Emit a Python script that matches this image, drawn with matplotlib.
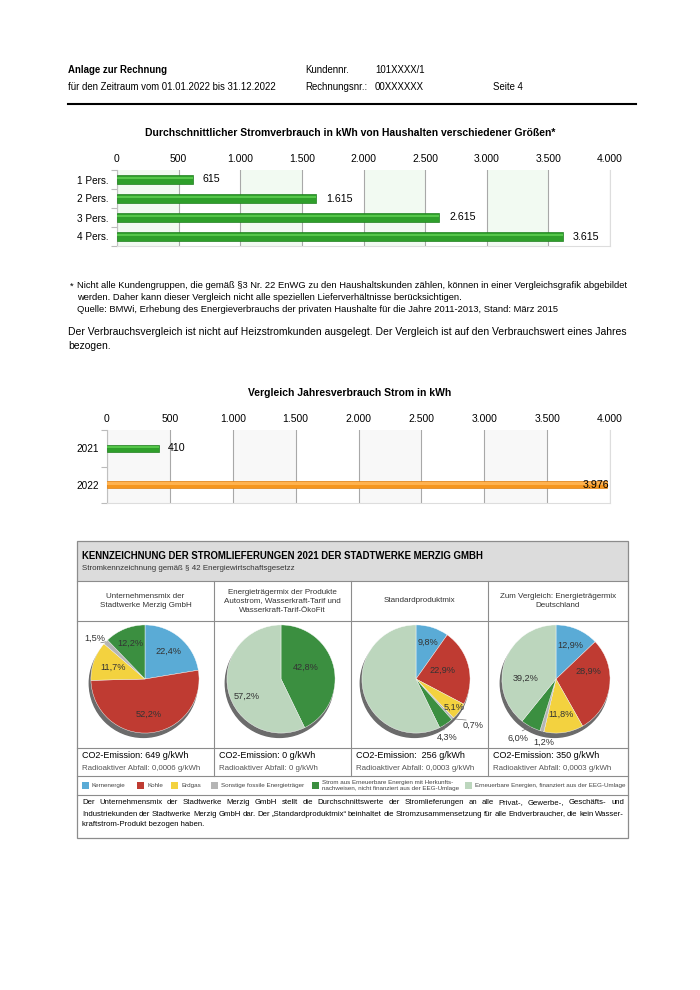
import numpy as np
import matplotlib.pyplot as plt
from matplotlib.patches import Rectangle, Circle

plt.rcParams['font.family'] = ['Liberation Sans', 'DejaVu Sans']

# Daten
haushalt_kat = ['1 Pers.', '2 Pers.', '3 Pers.', '4 Pers.']
haushalt_kwh = [615, 1615, 2615, 3615]
jahre = ['2021', '2022']
jahres_kwh = [410, 3976]
achse_ticks = [0, 500, 1000, 1500, 2000, 2500, 3000, 3500, 4000]

traeger = ['Kernenergie', 'Kohle', 'Erdgas', 'Sonstige fossile Energieträger',
           'Strom aus Erneuerbare Energien mit Herkunfts-\nnachweisen, nicht finanziert aus der EEG-Umlage',
           'Erneuerbare Energien, finanziert aus der EEG-Umlage']
traeger_farben = ['#5aabd6', '#bf3b32', '#f3d23f', '#b5b5b5', '#3b8f40', '#bcd6bd']

mix_titel = ['Unternehmensmix der\nStadtwerke Merzig GmbH',
             'Energieträgermix der Produkte\nAutostrom, Wasserkraft-Tarif und\nWasserkraft-Tarif-ÖkoFit',
             'Standardproduktmix',
             'Zum Vergleich: Energieträgermix\nDeutschland']
mix_unternehmen = [22.4, 52.2, 11.7, 1.5, 12.2, 0.0]
mix_oekofit = [0.0, 0.0, 0.0, 0.0, 42.8, 57.2]
mix_standard = [9.8, 22.9, 5.1, 0.7, 4.3, 57.2]
mix_deutschland = [12.9, 28.9, 11.8, 1.2, 6.0, 39.2]
co2 = ['CO2-Emission: 649 g/kWh', 'CO2-Emission: 0 g/kWh',
       'CO2-Emission:  256 g/kWh', 'CO2-Emission: 350 g/kWh']
abfall = ['Radioaktiver Abfall: 0,0006 g/kWh', 'Radioaktiver Abfall: 0 g/kWh',
          'Radioaktiver Abfall: 0,0003 g/kWh', 'Radioaktiver Abfall: 0,0003 g/kWh']

# Beschriftung je Segment (nur Segmente > 0): Radius und Winkelversatz
label_r = [[0.66, 0.65, 0.62, 1.2, 0.72],
           [0.51, 0.71],
           [0.72, 0.51, 0.88, 1.36, 1.22, 0.55],
           [0.68, 0.62, 0.66, 1.2, 1.3, 0.56]]
label_dw = [[0, 0, 0, 4, 0],
            [11, 14],
            [0, 4, 0, 8, -5],
            [0, 22, 0, 4, -5, 18]]

W, H = 700, 990
fig = plt.figure(figsize=(W / 100, H / 100), dpi=100)


def box(x, y, w, h):
    return [x / W, 1 - (y + h) / H, w / W, h / H]


def de(v):
    return f"{v:,}".replace(',', '.')


bg = fig.add_axes([0, 0, 1, 1])
bg.set_xlim(0, W)
bg.set_ylim(H, 0)
bg.axis('off')

# Kopf
hs = 6.9
bg.text(68, 70, 'Anlage zur Rechnung', fontsize=hs, fontweight='bold', va='center')
bg.text(68, 87, 'für den Zeitraum vom 01.01.2022 bis 31.12.2022', fontsize=hs, va='center')
bg.text(305, 70, 'Kundennr.', fontsize=hs, va='center')
bg.text(375, 70, '101XXXX/1', fontsize=hs, va='center')
bg.text(305, 87, 'Rechnungsnr.:', fontsize=hs, va='center')
bg.text(375, 87, '00XXXXXX', fontsize=hs, va='center')
bg.text(493, 87, 'Seite 4', fontsize=hs, va='center')
bg.plot([68, 636], [104, 104], color='black', lw=1.5)


def bar_chart(rect, cats, vals, cols, hi, edge, band, bar_h):
    ax = fig.add_axes(box(*rect))
    y = np.arange(len(cats))
    for i in range(len(achse_ticks) - 1):
        if i % 2 == 0:
            ax.axvspan(achse_ticks[i], achse_ticks[i + 1], color=band, lw=0, zorder=0)
    ax.barh(y, vals, height=bar_h, color=cols, edgecolor=edge, lw=0.5, zorder=3)
    ax.barh(y - bar_h * 0.18, vals, height=bar_h * 0.3, color=hi, lw=0, zorder=4)
    ax.set_xlim(0, 4000)
    ax.set_ylim(len(cats) - 0.5, -0.5)
    ax.set_xticks(achse_ticks)
    ax.set_xticklabels([de(t) for t in achse_ticks])
    ax.xaxis.tick_top()
    ax.tick_params(axis='x', length=0, pad=4, labelsize=7.5)
    ax.set_yticks(y)
    ax.set_yticklabels(cats)
    ax.set_yticks(np.arange(-0.5, len(cats)), minor=True)
    ax.tick_params(axis='y', which='major', length=0, pad=6, labelsize=7.2)
    ax.tick_params(axis='y', which='minor', length=4, color='#bbbbbb', width=0.8)
    ax.grid(axis='x', color='#a8a8a8', lw=0.8)
    ax.set_axisbelow(True)
    ax.spines['top'].set_visible(False)
    ax.spines['left'].set_color('#c0c0c0')
    ax.spines['bottom'].set_color('#dddddd')
    ax.spines['right'].set_color('#dddddd')
    for yi, v in zip(y, vals):
        if v > 3700:
            ax.annotate(de(v), (v, yi), xytext=(1.5, 0), textcoords='offset points',
                        ha='right', va='center', fontsize=7.7, zorder=5)
        else:
            ax.annotate(de(v), (v, yi), xytext=(7, 0), textcoords='offset points',
                        ha='left', va='center', fontsize=7.7, zorder=5)
    return ax


# Diagramm 1
bg.text(350, 133, 'Durchschnittlicher Stromverbrauch in kWh von Haushalten verschiedener Größen*',
        fontsize=7.45, fontweight='bold', ha='center', va='center')
bar_chart((117, 170, 493, 76), haushalt_kat, haushalt_kwh, '#2f9f2b', '#55c64a', '#1f7f1f',
          '#f2faf2', 0.44)

# Fußnote
fn = 6.75
bg.text(70, 286, '*', fontsize=fn, va='center')
bg.text(77, 286, 'Nicht alle Kundengruppen, die gemäß §3 Nr. 22 EnWG zu den Haushaltskunden zählen, '
        'können in einer Vergleichsgrafik abgebildet', fontsize=fn, va='center')
bg.text(77, 298, 'werden. Daher kann dieser Vergleich nicht alle speziellen Lieferverhältnisse '
        'berücksichtigen.', fontsize=fn, va='center')
bg.text(77, 309, 'Quelle: BMWi, Erhebung des Energieverbrauchs der privaten Haushalte für die Jahre '
        '2011-2013, Stand: März 2015', fontsize=fn, va='center')
bg.text(68, 332, 'Der Verbrauchsvergleich ist nicht auf Heizstromkunden ausgelegt. Der Vergleich ist '
        'auf den Verbrauchswert eines Jahres', fontsize=7.5, va='center')
bg.text(68, 346, 'bezogen.', fontsize=7.5, va='center')

# Diagramm 2
bg.text(350, 393, 'Vergleich Jahresverbrauch Strom in kWh', fontsize=7.45, fontweight='bold',
        ha='center', va='center')
bar_chart((107, 430, 503, 73), jahre, jahres_kwh, ['#2f9f2b', '#f5961f'], ['#55c64a', '#ffb24f'],
          ['#1f7f1f', '#e07f10'], '#f8f8f8', 0.2)

# Tabelle Stromkennzeichnung
tl, tr, tt, tb = 77, 628, 541, 838
cols_x = [77, 214, 351, 488, 628]
bg.add_patch(Rectangle((tl, tt), tr - tl, 40, color='#dcdcdc', lw=0))
bg.add_patch(Rectangle((tl, tt), tr - tl, tb - tt, fill=False, edgecolor='#8c8c8c', lw=0.9))
for yy in [581, 621, 748, 776, 795]:
    bg.plot([tl, tr], [yy, yy], color='#8c8c8c', lw=0.8)
for xx in cols_x[1:-1]:
    bg.plot([xx, xx], [581, 776], color='#8c8c8c', lw=0.8)

bg.text(82, 556, 'KENNZEICHNUNG DER STROMLIEFERUNGEN 2021 DER STADTWERKE MERZIG GMBH',
        fontsize=6.9, fontweight='bold', va='center')
bg.text(82, 568, 'Stromkennzeichnung gemäß § 42 Energiewirtschaftsgesetzz', fontsize=5.7,
        va='center', color='#333333')

mixe = [mix_unternehmen, mix_oekofit, mix_standard, mix_deutschland]
pie_cx = [145, 281, 416, 556]
pie_cy = 679
R = 52
for k in range(4):
    xc = (cols_x[k] + cols_x[k + 1]) / 2
    bg.text(xc, 601, mix_titel[k], fontsize=5.8, ha='center', va='center',
            linespacing=1.4, color='#333333')
    bg.text(cols_x[k] + 5, 756, co2[k], fontsize=6.5, va='center')
    bg.text(cols_x[k] + 5, 768, abfall[k], fontsize=5.7, va='center', color='#555555')

    size = 2.6 * R
    ax = fig.add_axes(box(pie_cx[k] - size / 2, pie_cy - size / 2, size, size))
    ax.set_xlim(-1.3, 1.3)
    ax.set_ylim(-1.3, 1.3)
    ax.axis('off')
    ax.add_patch(Circle((-0.03, -0.08), 1.0, color='#6b6b6b', zorder=0))
    vals = [v for v in mixe[k] if v > 0]
    farben = [c for v, c in zip(mixe[k], traeger_farben) if v > 0]
    ax.pie(vals, colors=farben, startangle=90, counterclock=False, radius=1,
           wedgeprops=dict(edgecolor='white', lw=0.3))
    cum = 0
    for v, rr, dw in zip(vals, label_r[k], label_dw[k]):
        mid = np.deg2rad(90 - 3.6 * (cum + v / 2))
        ang = mid + np.deg2rad(dw)
        cum += v
        lx, ly = rr * np.cos(ang), rr * np.sin(ang)
        if rr > 1:
            ax.plot([np.cos(mid), lx * 0.88], [np.sin(mid), ly * 0.88],
                    color='#777777', lw=0.5)
        ax.text(lx, ly, f"{v:.1f}".replace('.', ',') + '%', fontsize=6.6, ha='center',
                va='center', color='#333333')

# Legende
leg_x = [82, 137, 171, 211, 312, 465]
for xx, c, t in zip(leg_x, traeger_farben, traeger):
    bg.add_patch(Rectangle((xx, 782), 7, 7, color=c, lw=0))
    bg.text(xx + 10, 785.5, t, fontsize=4.5, va='center', linespacing=1.1, color='#444444')

# Erläuterung (Blocksatz)
renderer = fig.canvas.get_renderer()


def justify(x0, x1, y, text, size):
    words = text.split()
    objs = [bg.text(0, y, w, fontsize=size, va='center') for w in words]
    widths = [o.get_window_extent(renderer).width for o in objs]
    gap = max((x1 - x0 - sum(widths)) / (len(words) - 1), 1.5)
    x = x0
    for o, w in zip(objs, widths):
        o.set_x(x)
        x += w + gap


txt = 5.6
justify(82, 624, 803, 'Der Unternehmensmix der Stadtwerke Merzig GmbH stellt die Durchschnittswerte der '
        'Stromlieferungen an alle Privat-, Gewerbe-, Geschäfts- und', txt)
justify(82, 624, 814, 'Industriekunden der Stadtwerke Merzig GmbH dar. Der \u201eStandardproduktmix\u201c '
        'beinhaltet die Stromzusammensetzung für alle Endverbraucher, die kein Wasser-', txt)
bg.text(82, 825, 'kraftstrom-Produkt bezogen haben.', fontsize=txt, va='center')

fig.savefig('out.png', dpi=100)
